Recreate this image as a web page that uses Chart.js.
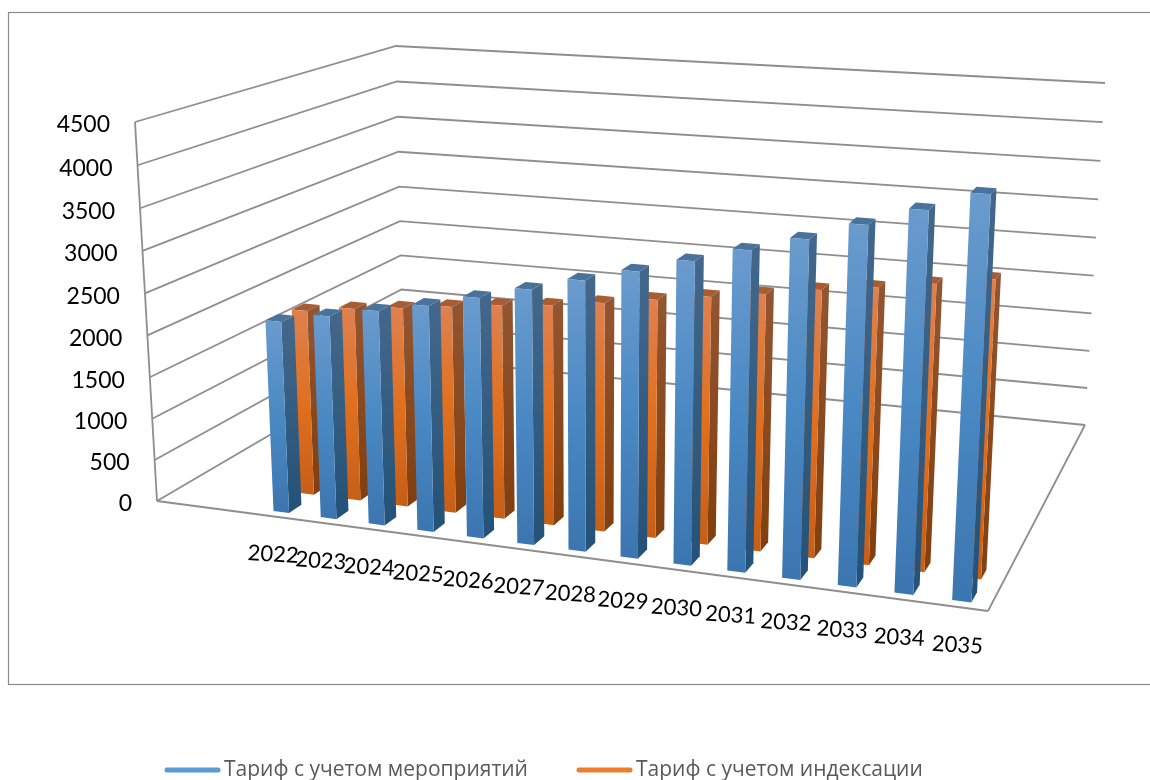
<!DOCTYPE html>
<html>
<head>
<meta charset="utf-8">
<title>Тариф</title>
<script src="https://cdn.jsdelivr.net/npm/chart.js@4"></script>
<style>
  html, body { margin: 0; padding: 0; background: #fff; overflow: hidden; }
  canvas { display: block; }
</style>
</head>
<body>
<canvas id="chart" width="1150" height="780"></canvas>
<script>
const categories = ['2022', '2023', '2024', '2025', '2026', '2027', '2028', '2029', '2030', '2031', '2032', '2033', '2034', '2035'];
const tarifMeropriyatiya = [2273, 2395, 2510, 2628, 2774, 2922, 3079, 3233, 3400, 3570, 3740, 3945, 4150, 4365];
const tarifIndeksacii = [2236, 2315, 2378, 2450, 2520, 2577, 2660, 2753, 2843, 2928, 3030, 3110, 3205, 3310];
const yMax = 4500;
const yStep = 500;

// corners of the box on screen: front-left, front-right, back-right, back-left
const floor = [[157, 501], [988, 611], [1085, 425], [403, 357]];
const roof = [[135, 122], [1009, 186], [1105, 83], [396, 46]];
const heightBend = 0.03; // upper levels sit a little further apart
const floorBend = 0.015, roofBend = 0.048; // evens out the column spacing along the box

// where the bars sit inside the box
const uStart = 0.127, uEnd = 1.0;
const blueRow = [0.025, 0.07];
const orangeRow = [0.125, 0.17];

const looks = [
  { dataset: 1, row: orangeRow, shift: -0.003, front: ['#de8150', '#e0701f', '#c75f17'], side: ['#935632', '#823f0f'], top: '#a85c34' },
  { dataset: 0, row: blueRow, shift: 0, front: ['#6a9bcd', '#4a89c4', '#3c76b0'], side: ['#44688c', '#255278'], top: '#4a739c' }
];

// square -> quad homography
function quadMatrix(q) {
  const [x0, y0] = q[0], [x1, y1] = q[1], [x2, y2] = q[2], [x3, y3] = q[3];
  const dx1 = x1 - x2, dx2 = x3 - x2, sx = x0 - x1 + x2 - x3;
  const dy1 = y1 - y2, dy2 = y3 - y2, sy = y0 - y1 + y2 - y3;
  const det = dx1 * dy2 - dx2 * dy1;
  const g = (sx * dy2 - dx2 * sy) / det;
  const h = (dx1 * sy - sx * dy1) / det;
  return [x1 - x0 + g * x1, x3 - x0 + h * x3, x0, y1 - y0 + g * y1, y3 - y0 + h * y3, y0, g, h];
}
function applyQuad(m, u, d) {
  const w = m[6] * u + m[7] * d + 1;
  return [(m[0] * u + m[1] * d + m[2]) / w, (m[3] * u + m[4] * d + m[5]) / w];
}
const floorM = quadMatrix(floor);
const roofM = quadMatrix(roof);

function project(u, d, h) {
  const a = applyQuad(floorM, u + floorBend * u * (1 - u), d);
  const b = applyQuad(roofM, u + roofBend * u * (1 - u), d);
  const t = (1 - heightBend) * h / (1 - heightBend * h);
  return [a[0] + (b[0] - a[0]) * t, a[1] + (b[1] - a[1]) * t];
}

function poly(ctx, pts, fill) {
  ctx.beginPath();
  pts.forEach((p, i) => i ? ctx.lineTo(p[0], p[1]) : ctx.moveTo(p[0], p[1]));
  ctx.closePath();
  ctx.fillStyle = fill;
  ctx.fill();
}

function vGradient(ctx, a, b, stops) {
  const g = ctx.createLinearGradient(0, a[1], 0, b[1]);
  stops.forEach((c, i) => g.addColorStop(i / (stops.length - 1), c));
  return g;
}

function segment(ctx, a, b) {
  ctx.beginPath();
  ctx.moveTo(a[0], a[1]);
  ctx.lineTo(b[0], b[1]);
  ctx.stroke();
}

function drawBar(ctx, look, u0, u1, h) {
  const [d0, d1] = look.row;
  const fl = project(u0, d0, h), fr = project(u1, d0, h), br = project(u1, d1, h), bl = project(u0, d1, h);
  const gl = project(u0, d0, 0), gr = project(u1, d0, 0), gb = project(u1, d1, 0);
  poly(ctx, [fr, br, gb, gr], vGradient(ctx, br, gb, look.side));
  poly(ctx, [fl, bl, br, fr], look.top);
  poly(ctx, [fl, fr, gr, gl], vGradient(ctx, fl, gl, look.front));
}

const box3d = {
  id: 'box3d',
  beforeDatasetsDraw(chart) {
    const ctx = chart.ctx, area = chart.chartArea, xs = chart.scales.x, ys = chart.scales.y;
    const toU = px => uStart + (px - area.left) / area.width * (uEnd - uStart);
    const toH = px => ys.getValueForPixel(px) / yMax;

    ctx.save();
    // outer frame
    ctx.strokeStyle = '#8a8a8a';
    ctx.lineWidth = 1.2;
    ctx.strokeRect(8.5, 12.5, 1150, 672);

    // walls and floor
    ctx.strokeStyle = '#8e8e8e';
    ctx.lineWidth = 1.8;
    ys.ticks.forEach(t => {
      const h = t.value / yMax;
      const a = project(0, 0, h), b = project(0, 1, h), c = project(1, 1, h);
      ctx.beginPath();
      ctx.moveTo(a[0], a[1]);
      ctx.lineTo(b[0], b[1]);
      ctx.lineTo(c[0], c[1]);
      ctx.stroke();
    });
    segment(ctx, project(0, 0, 0), project(0, 0, 1));
    segment(ctx, project(0, 0, 0), project(1, 0, 0));
    segment(ctx, project(1, 0, 0), project(1, 1, 0));

    // bars, back row first
    looks.forEach(look => {
      chart.getDatasetMeta(look.dataset).data.forEach(el => {
        const half = el.width / 2;
        drawBar(ctx, look, toU(el.x - half) + look.shift, toU(el.x + half) + look.shift, toH(el.y));
      });
    });

    // value axis labels
    ctx.fillStyle = '#000';
    ctx.font = '23px Lato';
    ctx.textAlign = 'right';
    ctx.textBaseline = 'middle';
    ys.ticks.forEach(t => {
      const p = project(0, 0, t.value / yMax);
      ctx.fillText(String(t.value), p[0] - 25, p[1] + 3);
    });

    // year labels under the front edge, slightly tilted
    ctx.font = '22px Lato';
    ctx.textAlign = 'center';
    chart.getDatasetMeta(0).data.forEach((el, i) => {
      const p = project(toU(el.x), 0, 0);
      ctx.save();
      ctx.translate(p[0] - 1, p[1] + 38);
      ctx.rotate(0.06);
      ctx.fillText(xs.getLabelForValue(i), 0, 0);
      ctx.restore();
    });

    // legend row along the bottom edge
    ctx.textAlign = 'left';
    ctx.textBaseline = 'alphabetic';
    ctx.font = '500 21px "Open Sans"';
    ctx.lineCap = 'round';
    ctx.lineWidth = 5;
    const legendStart = [167, 579];
    chart.data.datasets.forEach((ds, i) => {
      const x = legendStart[i];
      ctx.strokeStyle = ds.backgroundColor;
      segment(ctx, [x, 770], [x + 51, 770]);
      ctx.fillStyle = '#595959';
      ctx.fillText(ds.label, x + 57, 776);
    });
    ctx.restore();
    return false;
  }
};

new Chart(document.getElementById('chart'), {
  type: 'bar',
  data: {
    labels: categories,
    datasets: [
      { label: 'Тариф с учетом мероприятий', data: tarifMeropriyatiya, backgroundColor: '#5b9bd5' },
      { label: 'Тариф с учетом индексации', data: tarifIndeksacii, backgroundColor: '#ed7d31' }
    ]
  },
  options: {
    responsive: false,
    animation: false,
    datasets: { bar: { grouped: false, categoryPercentage: 1, barPercentage: 0.33 } },
    scales: {
      x: { display: false },
      y: { display: false, min: 0, max: yMax, ticks: { stepSize: yStep } }
    },
    plugins: {
      tooltip: { enabled: false },
      legend: { display: false }
    }
  },
  plugins: [box3d]
});
</script>
</body>
</html>
